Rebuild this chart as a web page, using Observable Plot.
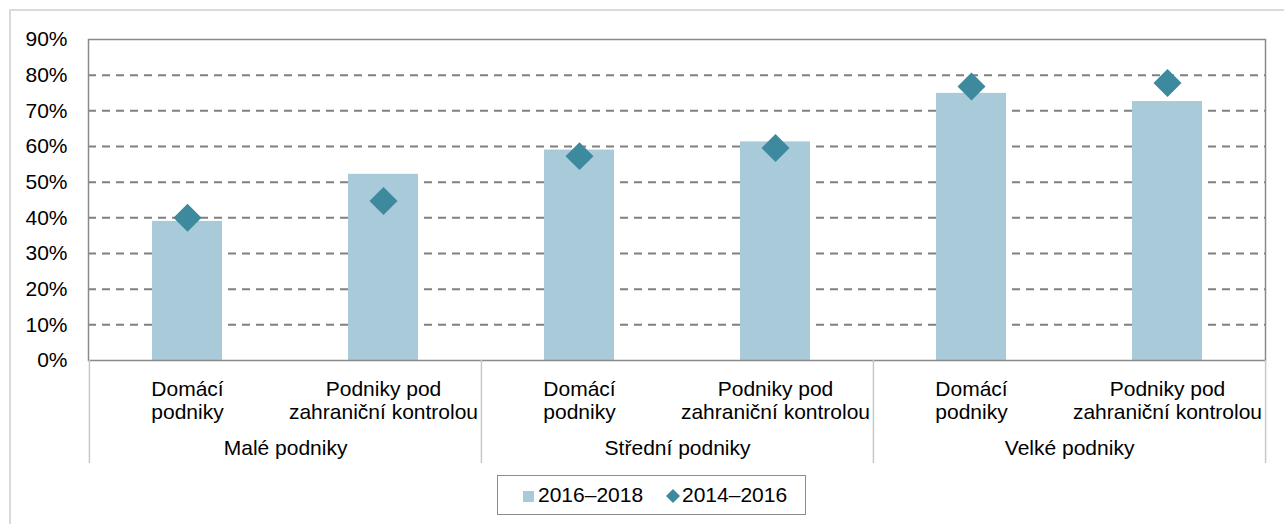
<!DOCTYPE html>
<html>
<head>
<meta charset="utf-8">
<script src="https://cdn.jsdelivr.net/npm/d3@7"></script>
<script src="https://cdn.jsdelivr.net/npm/@observablehq/plot@0.6"></script>
<style>
  html, body { margin: 0; padding: 0; background: #fff; overflow: hidden; }
  body { width: 1284px; height: 524px; position: relative; font-family: "Liberation Sans", Arial, sans-serif; }
  #frame { position: absolute; left: 9px; top: 9px; width: 1320px; height: 600px; border: 2px solid #dadada; box-sizing: border-box; }
  #chart { position: absolute; left: 0; top: 0; }
  #legend { position: absolute; left: 497px; top: 475px; width: 309px; height: 40px; box-sizing: border-box;
            border: 1.5px solid #8c8c8c; background: #fff; font-size: 21px; color: #000; }
  .item { position: absolute; top: 0; height: 37px; line-height: 37px; white-space: nowrap; }
  .item svg { position: absolute; }
</style>
</head>
<body>
<div id="frame"></div>
<div id="chart"></div>
<div id="legend"></div>
<script>
// ---- data ----
const groups = ["Malé podniky", "Střední podniky", "Velké podniky"];
const categories = ["Domácí\npodniky", "Podniky pod\nzahraniční kontrolou"];
const series = ["2016–2018", "2014–2016"];
const values2016_2018 = [39.0, 52.2, 59.0, 61.3, 74.9, 72.6];
const values2014_2016 = [40.0, 44.7, 57.3, 59.6, 76.8, 77.8];
const yTicks = [0, 10, 20, 30, 40, 50, 60, 70, 80, 90];

// ---- table ----
const rows = [];
groups.forEach((g, gi) => categories.forEach((c, ci) => {
  const i = gi * categories.length + ci;
  rows.push({key: g + "|" + c, group: g, label: c, a: values2016_2018[i], b: values2014_2016[i]});
}));
const groupRows = groups.map(g => ({group: g, first: g + "|" + categories[0], last: g + "|" + categories[categories.length - 1]}));

const W = 1284, H = 470, ML = 88, MR = 19, MT = 39, MB = 110;
const step = (W - ML - MR) / rows.length;
const barColor = "#a8cad9", dotColor = "#3d899e";
const font = "Liberation Sans, Arial, sans-serif";

const chart = Plot.plot({
  width: W, height: H,
  marginLeft: ML, marginRight: MR, marginTop: MT, marginBottom: MB,
  style: {fontFamily: font, fontSize: "21px", color: "#000", background: "transparent"},
  x: {domain: rows.map(d => d.key), paddingInner: 0.645, paddingOuter: 0.3225, axis: null},
  y: {domain: [0, 90], axis: null},
  marks: [
    Plot.ruleY(yTicks.filter(t => t > 0 && t < 90), {stroke: "#808080", strokeWidth: 2, strokeDasharray: "8,6"}),
    Plot.barY(rows, {x: "key", y: "a", fill: barColor}),
    Plot.dot(rows, {x: "key", y: "b", symbol: "diamond2", r: 12.6, fill: dotColor, stroke: "none"}),
    Plot.frame({stroke: "#8a8a8a", strokeWidth: 1.5}),
    Plot.axisY({ticks: yTicks, tickSize: 0, tickPadding: 21, tickFormat: d => d + "%", label: null, fontSize: 21, fill: "#000"}),
    Plot.axisX({ticks: groupRows.map(d => d.first), tickSize: 103, dx: -step / 2, tickFormat: () => "", label: null, stroke: "#c8c8c8", strokeWidth: 1.5}),
    Plot.axisX({ticks: [groupRows[groupRows.length - 1].last], tickSize: 103, dx: step / 2, tickFormat: () => "", label: null, stroke: "#c8c8c8", strokeWidth: 1.5}),
    Plot.text(rows, {x: "key", text: "label", frameAnchor: "bottom", lineAnchor: "top", dy: 18, lineHeight: 1.14, fontSize: 21, fill: "#000"}),
    Plot.text(groupRows, {x: "first", text: "group", frameAnchor: "bottom", lineAnchor: "top", dy: 80, dx: step / 2, fontSize: 21, fill: "#000"})
  ]
});
document.getElementById("chart").appendChild(chart);

// ---- legend ----
const legend = document.getElementById("legend");
legend.innerHTML =
  `<div class="item" style="left:25px;"><svg width="11" height="11" style="left:0;top:15px;"><rect width="11" height="11" fill="${barColor}"/></svg><span style="margin-left:15px;">${series[0]}</span></div>` +
  `<div class="item" style="left:168px;"><svg width="14" height="14" style="left:0;top:13px;"><path d="M7 0L14 7L7 14L0 7Z" fill="${dotColor}"/></svg><span style="margin-left:16px;">${series[1]}</span></div>`;
</script>
</body>
</html>
